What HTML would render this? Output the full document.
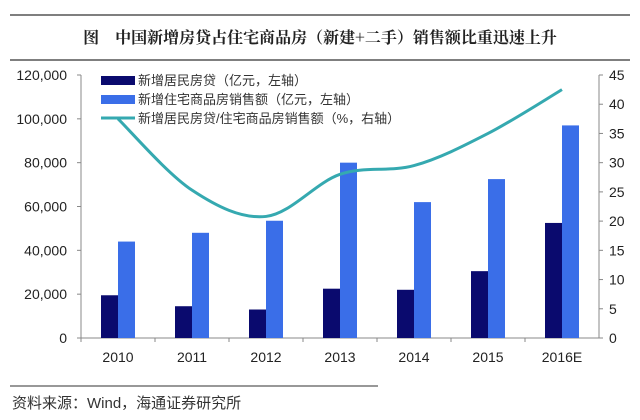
<!DOCTYPE html>
<html><head><meta charset="utf-8"><style>
body{margin:0;background:#fff;width:640px;height:415px;overflow:hidden;font-family:"Liberation Sans","Noto Sans CJK SC",sans-serif}
</style></head><body>
<svg width="640" height="415" font-family="Liberation Sans, Noto Sans CJK SC, sans-serif">
<line x1="10" y1="15" x2="630" y2="15" stroke="#555" stroke-width="1.5"/>
<text x="320" y="43" text-anchor="middle" font-size="16" font-weight="bold" fill="#222" font-family="Noto Serif CJK SC, serif">图　中国新增房贷占住宅商品房（新建+二手）销售额比重迅速上升</text>
<line x1="10" y1="60" x2="630" y2="60" stroke="#555" stroke-width="1.5"/>
<g id="axes"></g>
<g id="bars"></g>
<path id="ratio-line" fill="none" stroke="#35a9b0" stroke-width="3"/>
<g font-size="13" fill="#333">
<rect x="101" y="76" width="34" height="9" fill="#0a0a6e"/>
<text x="138" y="85">新增居民房贷（亿元，左轴）</text>
<rect x="101" y="95" width="34" height="9" fill="#3a6ee8"/>
<text x="138" y="104">新增住宅商品房销售额（亿元，左轴）</text>
<line x1="101" y1="118" x2="135" y2="118" stroke="#35a9b0" stroke-width="3"/>
<text x="138" y="123">新增居民房贷/住宅商品房销售额（%，右轴）</text>
</g>
<line x1="10" y1="386" x2="378" y2="386" stroke="#777" stroke-width="1.5"/>
<text x="12" y="408" font-size="15" fill="#333">资料来源：Wind，海通证券研究所</text>
</svg>
<script>
const categories=["2010","2011","2012","2013","2014","2015","2016E"];
const mortgage=[19500,14500,13000,22500,22000,30500,52500];
const sales=[44000,48000,53500,80000,62000,72500,97000];
const ratio=[37.5,25.3,20.8,28,29.5,35,42.5];
const leftTicks=[0,20000,40000,60000,80000,100000,120000];
const rightTicks=[0,5,10,15,20,25,30,35,40,45];
const NS="http://www.w3.org/2000/svg";
const x0=81,cw=74,yb=338,yt=75;
const yL=v=>yb-(v/120000)*(yb-yt);
const yR=v=>yb-(v/45)*(yb-yt);
const cx=i=>x0+cw*(i+0.5);
function mk(tag,attrs,parent,txt){const e=document.createElementNS(NS,tag);for(const k in attrs)e.setAttribute(k,attrs[k]);if(txt!==undefined)e.textContent=txt;parent.appendChild(e);return e;}
const ax=document.getElementById('axes');
let e;
e=mk('line',{x1:x0,y1:yt,x2:x0,y2:yb,stroke:'#888'},ax);


e=mk('line',{x1:x0+cw*7,y1:yt,x2:x0+cw*7,y2:yb,stroke:'#888'},ax);


e=mk('line',{x1:x0,y1:yb,x2:x0+cw*7,y2:yb,stroke:'#888'},ax);


leftTicks.forEach(v=>{const y=yL(v);mk('line',{x1:x0-4,y1:y,x2:x0,y2:y,stroke:'#888'},ax);
e=mk('text',{x:x0-14,y:y+5,'text-anchor':'end','font-size':14,fill:'#222'},ax,v.toLocaleString('en-US'));

});
rightTicks.forEach(v=>{const y=yR(v);mk('line',{x1:x0+cw*7,y1:y,x2:x0+cw*7+4,y2:y,stroke:'#888'},ax);
e=mk('text',{x:x0+cw*7+10,y:y+5,'font-size':14,fill:'#222'},ax,String(v));

});
categories.forEach((c,i)=>{mk('line',{x1:x0+cw*i,y1:yb,x2:x0+cw*i,y2:yb+4,stroke:'#888'},ax);
e=mk('text',{x:cx(i),y:yb+24,'text-anchor':'middle','font-size':14,fill:'#222'},ax,c);

});
const bg=document.getElementById('bars');
mortgage.forEach((v,i)=>{e=mk('rect',{x:cx(i)-17,y:yL(v),width:17,height:yb-yL(v),fill:'#0a0a6e'},bg);

});
sales.forEach((v,i)=>{e=mk('rect',{x:cx(i),y:yL(v),width:17,height:yb-yL(v),fill:'#3a6ee8'},bg);

});
const pts=ratio.map((v,i)=>[cx(i),yR(v)]);
let d='M'+pts[0][0]+','+pts[0][1];
for(let i=0;i<pts.length-1;i++){const p0=pts[i-1]||pts[i],p1=pts[i],p2=pts[i+1],p3=pts[i+2]||p2;
d+=` C${p1[0]+(p2[0]-p0[0])/6},${p1[1]+(p2[1]-p0[1])/6} ${p2[0]-(p3[0]-p1[0])/6},${p2[1]-(p3[1]-p1[1])/6} ${p2[0]},${p2[1]}`;}
document.getElementById('ratio-line').setAttribute('d',d);
</script>
</body></html>
